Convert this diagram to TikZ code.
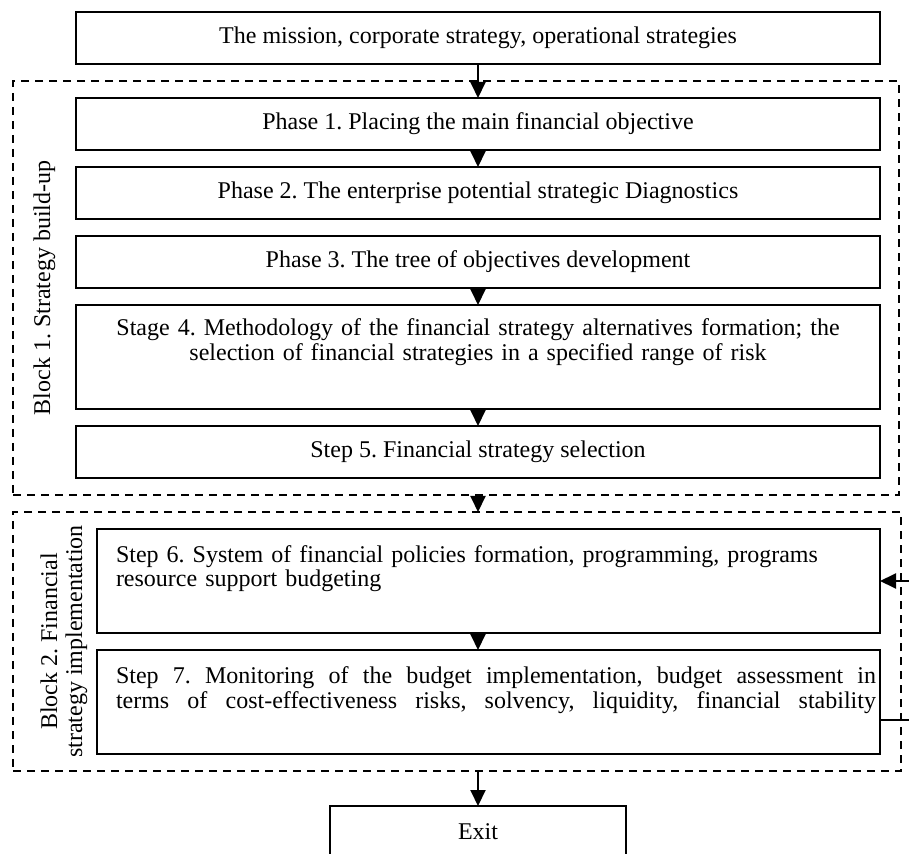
\documentclass[tikz,border=0pt]{standalone}
\usepackage{fontspec}
\setmainfont{Liberation Serif}
\usetikzlibrary{positioning,arrows.meta,fit,calc}

\begin{document}
\frenchspacing
\begin{tikzpicture}[
    font=\fontsize{12}{12.5}\selectfont,
    node distance=8.5pt,
    box/.style={rectangle, draw, line width=1pt, outer sep=0pt, minimum width=402pt, minimum height=26pt, inner sep=2pt, align=center},
    tallbox/.style={rectangle, draw, line width=1pt, outer sep=0pt, inner xsep=6pt, inner ysep=6pt, text height=9.5pt, text depth=30.5pt, text width=390pt, align=center},
    stepbox/.style={tallbox, inner xsep=9.5pt, text height=10.5pt, text depth=29.5pt, text width=372.5pt, align=left},
    blk/.style={rectangle, draw, line width=1pt, dash pattern=on 4pt off 3pt, outer sep=0pt, inner sep=0pt},
    arr/.style={-{Triangle[length=8pt,width=7.5pt]}, line width=1pt},
    side/.style={rotate=90, align=center}
]

\useasboundingbox (0,0) rectangle (454.5pt,-427pt);

\node[box] (mission) at (239pt,-19pt) {The mission, corporate strategy, operational strategies};

% block 1
\node[box, below=17pt of mission] (p1) {Phase 1. Placing the main financial objective};
\node[box, below=of p1] (p2) {Phase 2. The enterprise potential strategic Diagnostics};
\node[box, below=of p2] (p3) {Phase 3. The tree of objectives development};
\node[tallbox, below=of p3] (s4) {Stage 4. Methodology of the financial strategy alternatives formation; the\\
        selection of financial strategies in a specified range of risk};
\node[box, below=of s4] (s5) {Step 5. Financial strategy selection};

% block 2
\node[stepbox, below=25.5pt of s5, xshift=5.25pt] (s6) {Step 6. System of financial policies formation, programming, programs\\
        resource support budgeting};
\node[stepbox, below=of s6] (s7) {\makebox[380pt][s]{\spaceskip=3pt plus 6pt\relax Step 7. Monitoring of the budget implementation, budget assessment in}\\
        \makebox[380pt][s]{\spaceskip=3pt plus 6pt\relax terms of cost-effectiveness risks, solvency, liquidity, financial stability}};

\node[box, minimum width=148pt, below=26pt of s7, xshift=-5.25pt] (exit) {Exit};

\node[blk, fit={($(p1.north west)+(-31.5pt,8.5pt)$) ($(s5.south east)+(9.5pt,-8.5pt)$)}] (blk1) {};
\node[blk, fit={($(s6.north west)+(-42pt,8.5pt)$) ($(s7.south east)+(10.5pt,-8.5pt)$)}] (blk2) {};

\node[side] (lbl1) at ($(blk1.west)!0.5!(p1.west |- blk1.west)$) {Block 1. Strategy build-up};
\node[side] (lbl2) at ($(blk2.west)!0.5!(s6.west |- blk2.west)+(4.5pt,0)$) {Block 2. Financial\\ strategy implementation};

\draw[arr] (mission) -- (p1);
\draw[arr] (p1) -- (p2);
\draw[arr] (p3) -- (s4);
\draw[arr] (s4) -- (s5);
\draw[arr] (blk1.south -| mission) -- (blk2.north -| mission);
\draw[arr] (s6.south -| mission) -- (s7.north -| mission);
\draw[arr] (blk2.south -| exit) -- (exit);

% feedback
\draw[arr] ([yshift=-9pt]s7.east) -- ++(16pt,0) |- (s6.east);

\end{tikzpicture}
\end{document}
